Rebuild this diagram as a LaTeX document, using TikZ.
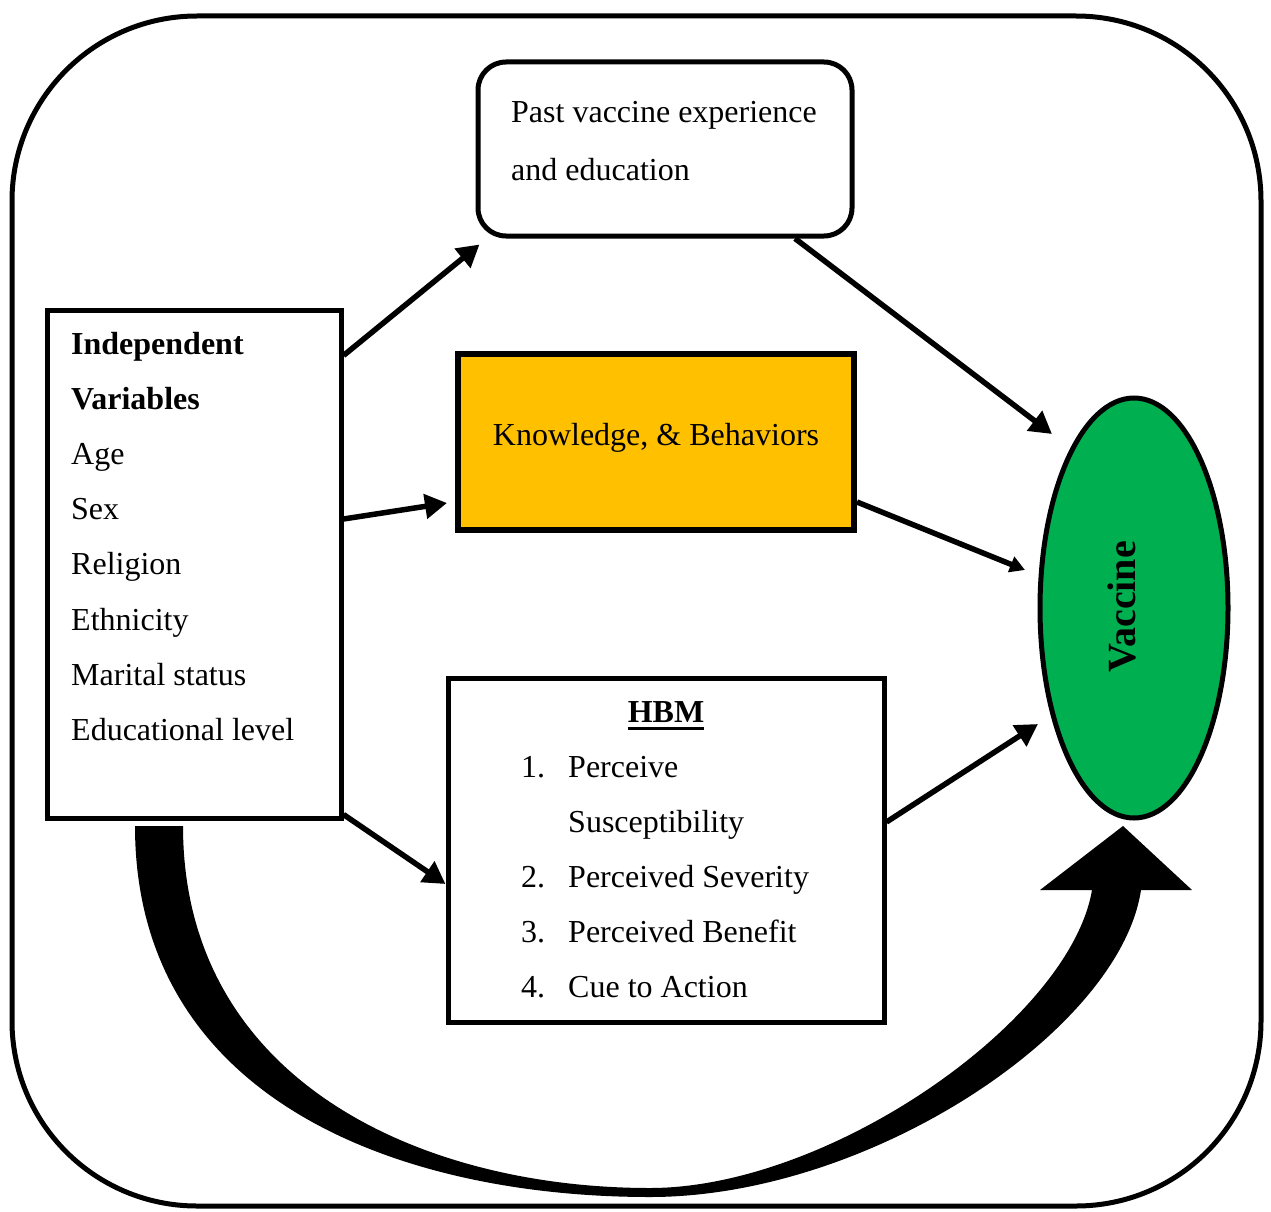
\documentclass[tikz,border=0pt]{standalone}
\usepackage{fontspec}
\setmainfont{Liberation Serif}
\usetikzlibrary{arrows.meta,shapes.geometric}
\definecolor{kgold}{HTML}{FFC000}
\definecolor{vgreen}{HTML}{00B050}
\tikzset{
  box/.style={draw, line width=5pt, inner sep=0pt},
  txt/.style={font=\fontsize{32}{38}\selectfont, inner sep=0pt, anchor=base west},
  arr/.style={line width=5.5pt, -{Triangle[length=22pt,width=24pt]}},
  arrs/.style={line width=5.5pt, -{Triangle[length=15pt,width=16pt]}},
}
\begin{document}
\begin{tikzpicture}[x=1pt,y=-1pt]
\useasboundingbox (0,0) rectangle (1271,1212);
% outer frame
\draw[line width=5pt, rounded corners=185pt] (12,16) rectangle (1261,1206);

% big curved arrow
\fill (135,826) .. controls (135,1100) and (400,1197) .. (650,1197)
  .. controls (870,1197) and (1120,1030) .. (1141,890)
  -- (1192,890) -- (1123,826) -- (1040,890) -- (1092,890)
  .. controls (1070,1020) and (830,1188) .. (650,1188)
  .. controls (420,1188) and (183,1080) .. (183,826) -- cycle;

% boxes
\node[box, rounded corners=28pt, minimum width=374pt, minimum height=174pt] (past) at (665,149) {};
\node[box, line width=6pt, fill=kgold, minimum width=396pt, minimum height=176pt] (know) at (656,442) {};
\node[box, minimum width=294pt, minimum height=508pt] (indep) at (194,564) {};
\node[box, minimum width=436pt, minimum height=344pt] (hbm) at (666,850) {};
\node[box, ellipse, fill=vgreen, minimum width=188pt, minimum height=420pt] (vac) at (1134,608) {};

% texts
\node[txt] (past1) at (511,123) {Past vaccine experience};
\node[txt] (past2) at (511,180) {and education};
\node[txt, anchor=base] (knowt) at (656,445) {Knowledge, \& Behaviors};

\node[txt, font=\fontsize{32}{38}\selectfont\bfseries] (ind1) at (71,354) {Independent};
\node[txt, font=\fontsize{32}{38}\selectfont\bfseries] (ind2) at (71,409) {Variables};
\node[txt] (ind3) at (71,464) {Age};
\node[txt] (ind4) at (71,519) {Sex};
\node[txt] (ind5) at (71,574) {Religion};
\node[txt] (ind6) at (71,630) {Ethnicity};
\node[txt] (ind7) at (71,685) {Marital status};
\node[txt] (ind8) at (71,740) {Educational level};

\node[txt, anchor=base, font=\fontsize{32}{38}\selectfont\bfseries] (hbmt) at (666,722) {HBM};
\draw[line width=3pt] ([yshift=-6pt]hbmt.base west) -- ([yshift=-6pt]hbmt.base east);
\node[txt] (n1) at (521,777) {1.};
\node[txt] (h1) at (568,777) {Perceive};
\node[txt] (h1b) at (568,832) {Susceptibility};
\node[txt] (n2) at (521,887) {2.};
\node[txt] (h2) at (568,887) {Perceived Severity};
\node[txt] (n3) at (521,942) {3.};
\node[txt] (h3) at (568,942) {Perceived Benefit};
\node[txt] (n4) at (521,997) {4.};
\node[txt] (h4) at (568,997) {Cue to Action};

\node[inner sep=0pt, anchor=base, rotate=90, font=\fontsize{40}{48}\selectfont\bfseries] (vact) at (1135,607) {Vaccine};

% connectors
\draw[arr] ([yshift=-48pt]indep.north east) -- ([xshift=4pt,yshift=-6pt]past.south west);
\draw[arr] ([yshift=45pt]indep.east) -- ([xshift=-8pt,yshift=-61pt]know.west);
\draw[arr] ([yshift=6pt]indep.south east) -- ([yshift=-34pt]hbm.west);
\draw[arr] ([xshift=130pt]past.south) -- ([xshift=-82pt,yshift=174pt]vac.center);
\draw[arrs] ([yshift=-60pt]know.east) -- ([xshift=-109pt,yshift=38pt]vac.center);
\draw[arr] ([yshift=28pt]hbm.east) -- ([xshift=-96pt,yshift=-116pt]vac.center);
\end{tikzpicture}
\end{document}
